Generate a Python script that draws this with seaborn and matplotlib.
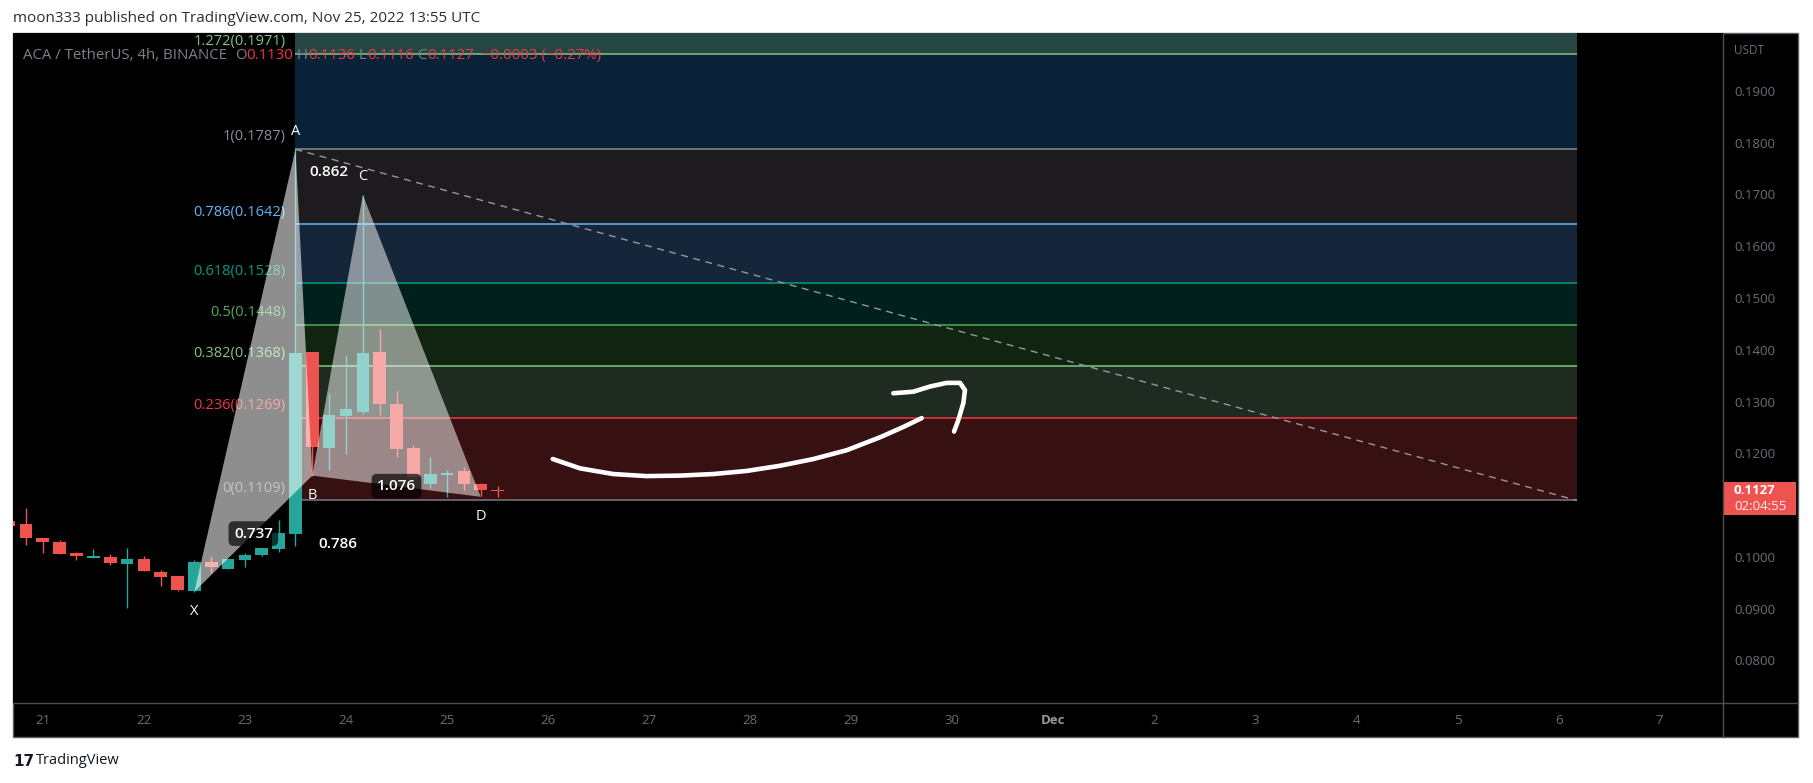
import numpy as np
import pandas as pd
import matplotlib
matplotlib.use("Agg")
import matplotlib.pyplot as plt
import matplotlib.transforms as mtransforms
from matplotlib.patches import Rectangle
from matplotlib.lines import Line2D
import seaborn as sns

# ---------------- data ----------------
origin = pd.Timestamp("2022-11-21 00:00")
candle_start = "2022-11-20 16:00"
opens  = [0.1069, 0.1064, 0.1036, 0.1029, 0.1008, 0.0998, 0.0999, 0.0987, 0.0996, 0.0971,
          0.0963, 0.0935, 0.0990, 0.0977, 0.0994, 0.1004, 0.1015, 0.1045, 0.1395, 0.1211,
          0.1273, 0.1280, 0.1396, 0.1295, 0.1210, 0.1140, 0.1159, 0.1165, 0.1141, 0.1130]
highs  = [0.1071, 0.1094, 0.1037, 0.1033, 0.1009, 0.1015, 0.1006, 0.1017, 0.1001, 0.0975,
          0.0963, 0.0994, 0.1002, 0.0995, 0.1008, 0.1017, 0.1071, 0.1787, 0.1396, 0.1316,
          0.1390, 0.1699, 0.1441, 0.1320, 0.1217, 0.1193, 0.1168, 0.1174, 0.1143, 0.1136]
lows   = [0.1058, 0.1023, 0.1008, 0.1006, 0.0994, 0.0998, 0.0984, 0.0902, 0.0972, 0.0943,
          0.0935, 0.0933, 0.0968, 0.0977, 0.0981, 0.1001, 0.1010, 0.1022, 0.1157, 0.1168,
          0.1199, 0.1275, 0.1274, 0.1192, 0.1155, 0.1134, 0.1116, 0.1129, 0.1118, 0.1116]
closes = [0.1060, 0.1037, 0.1028, 0.1006, 0.1002, 0.1002, 0.0989, 0.0996, 0.0972, 0.0961,
          0.0937, 0.0990, 0.0981, 0.0995, 0.1003, 0.1017, 0.1046, 0.1393, 0.1213, 0.1274,
          0.1286, 0.1393, 0.1295, 0.1209, 0.1155, 0.1160, 0.1160, 0.1140, 0.1130, 0.1127]

fib_low = 0.1109
fib_high = 0.1787
fib_levels = [0, 0.236, 0.382, 0.5, 0.618, 0.786, 1, 1.272, 1.414]
fib_line_colors = ["#787b86", "#f23645", "#81c784", "#4caf50", "#089981",
                   "#64b5f6", "#8a8d96", "#81c784", "#f23645"]
fib_band_colors = ["#371011", "#1f2b20", "#112412", "#00201d", "#15263a",
                   "#1d1b1e", "#0a2238", "#264644"]
fib_start = "2022-11-23 12:00"
fib_end = "2022-12-06 04:20"

pattern_names = ["X", "A", "B", "C", "D"]
pattern_times = ["2022-11-22 12:00", "2022-11-23 12:00", "2022-11-23 16:00",
                 "2022-11-24 04:00", "2022-11-25 08:00"]
pattern_prices = [0.0933, 0.1787, 0.1157, 0.1699, 0.1116]
ratio_pairs = [("X", "B"), ("A", "C"), ("X", "D"), ("B", "D")]
ratio_texts = ["0.737", "0.862", "0.786", "1.076"]

trend_times = ["2022-11-23 12:00", "2022-12-06 04:20"]
trend_prices = [0.1787, 0.1109]

price_ticks = [0.08, 0.09, 0.10, 0.12, 0.13, 0.14, 0.15, 0.16, 0.17, 0.18, 0.19]
day_labels = ["21", "22", "23", "24", "25", "26", "27", "28", "29", "30",
              "Dec", "2", "3", "4", "5", "6", "7"]

stroke_main_x = [5.046, 5.316, 5.645, 5.975, 6.305, 6.635, 6.965, 7.295, 7.625, 7.955, 8.285, 8.516, 8.697]
stroke_main_y = [0.1189, 0.1171, 0.1160, 0.1156, 0.1157, 0.1160, 0.1166, 0.1176, 0.1189, 0.1206, 0.1231, 0.1251, 0.1268]
stroke_hook_x = [8.416, 8.614, 8.779, 8.944, 9.076, 9.125, 9.109, 9.059, 9.017]
stroke_hook_y = [0.1316, 0.1319, 0.1329, 0.1336, 0.1336, 0.1322, 0.1297, 0.1264, 0.1242]

symbol_name = "ACA / TetherUS, 4h, BINANCE"
countdown = "02:04:55"
publish_text = "moon333 published on TradingView.com, Nov 25, 2022 13:55 UTC"

# ---------------- helpers ----------------
def to_days(t):
    return (pd.Timestamp(t) - origin) / pd.Timedelta("1D")

sns.set_theme(style="dark")
plt.rcParams["font.family"] = ["Open Sans", "DejaVu Sans"]
plt.rcParams["axes.unicode_minus"] = True

W, H = 1813, 783
fig = plt.figure(figsize=(W / 100, H / 100), dpi=100, facecolor="white")

# chart panel (black) incl. axes strips
px0, px1, py0, py1 = 13, 1798, 33, 737   # pixel box of the black panel
fig.patches.append(Rectangle((px0 / W, 1 - py1 / H), (px1 - px0) / W, (py1 - py0) / H,
                             transform=fig.transFigure, facecolor="black",
                             edgecolor="#5a5d66", lw=1, zorder=-10))

ax_l, ax_r, ax_t, ax_b = 13, 1723, 33, 703
ax = fig.add_axes([ax_l / W, 1 - ax_b / H, (ax_r - ax_l) / W, (ax_b - ax_t) / H])
ax.set_facecolor("black")
ax.set_zorder(1)

# separator lines through the axis strips
fig.add_artist(Line2D([ax_r / W, ax_r / W], [1 - py1 / H, 1 - py0 / H],
                      transform=fig.transFigure, color="#4a4d56", lw=1, zorder=5))
fig.add_artist(Line2D([px0 / W, px1 / W], [1 - ax_b / H, 1 - ax_b / H],
                      transform=fig.transFigure, color="#4a4d56", lw=1, zorder=5))

# ---------------- fib retracement ----------------
fx0, fx1 = to_days(fib_start), to_days(fib_end)
rng = fib_high - fib_low
fib_prices = [fib_low + l * rng for l in fib_levels]
for i, col in enumerate(fib_band_colors):
    ax.fill_between([fx0, fx1], fib_prices[i], fib_prices[i + 1], color=col, lw=0, zorder=0.5)
for lvl, p, col in zip(fib_levels[:-1], fib_prices[:-1], fib_line_colors[:-1]):
    ax.hlines(p, fx0, fx1, color=col, lw=1.1, zorder=1)
    lbl = f"{lvl:g}({p:.4f})"
    ax.annotate(lbl, xy=(fx0, p), xytext=(-7, 3.5), textcoords="offset points",
                ha="right", va="bottom", color=col, fontsize=10.5, zorder=1.2,
                annotation_clip=False)

# ---------------- candles ----------------
df = pd.DataFrame({"t": pd.date_range(candle_start, periods=len(opens), freq="4h"),
                   "open": opens, "high": highs, "low": lows, "close": closes})
df["x"] = (df["t"] - origin) / pd.Timedelta("1D")
up = df["close"] >= df["open"]
cols = np.where(up, "#26a69a", "#ef5350")
ax.vlines(df["x"], df["low"], df["high"], color=cols, lw=1.0, zorder=2)
body_lo = np.minimum(df["open"], df["close"])
body_h = np.maximum(np.abs(df["close"] - df["open"]), 0.00025)
ax.bar(df["x"], body_h, bottom=body_lo, width=0.125, color=cols, lw=0, zorder=2.1)

# ---------------- XABCD pattern ----------------
pt = {n: (to_days(t), p) for n, t, p in zip(pattern_names, pattern_times, pattern_prices)}
for tri, a in ((("X", "A", "B"), 0.56), (("B", "C", "D"), 0.5)):
    xs = [pt[n][0] for n in tri]
    ys = [pt[n][1] for n in tri]
    ax.fill(xs, ys, color="white", alpha=a, lw=0, zorder=3)
for n in pattern_names:
    below = n in ("X", "B", "D")
    ax.annotate(n, xy=pt[n], xytext=(0, -14 if below else 13), textcoords="offset points",
                ha="center", va="center", color="white", fontsize=10.5, zorder=5)
for (a, b), txt in zip(ratio_pairs, ratio_texts):
    mx = (pt[a][0] + pt[b][0]) / 2
    my = (pt[a][1] + pt[b][1]) / 2
    boxed = (a, b) in (("X", "B"), ("B", "D"))
    ax.text(mx, my, txt, ha="center", va="center", color="white", fontsize=11,
            fontweight="semibold", zorder=5,
            bbox=dict(boxstyle="round,pad=0.35", fc="black", ec="none",
                      alpha=0.68 if boxed else 0.0))

# dashed trend line
sns.lineplot(x=[to_days(t) for t in trend_times], y=trend_prices, ax=ax, color="#9598a1",
             lw=1, linestyle=(0, (5, 4)), zorder=3.5, sort=False, estimator=None)

# hand-drawn brush strokes
for sx, sy in ((stroke_main_x, stroke_main_y), (stroke_hook_x, stroke_hook_y)):
    sns.lineplot(x=sx, y=sy, ax=ax, color="white", lw=3.3, sort=False, estimator=None,
                 solid_capstyle="round", solid_joinstyle="round", zorder=6)

# ---------------- axes ----------------
ax.set_xlim(-0.295, 16.626)
ax.set_ylim(0.07179, 0.20116)
ax.yaxis.tick_right()
ax.set_yticks(price_ticks)
ax.set_yticklabels([f"{p:.4f}" for p in price_ticks])
ax.set_xticks(range(len(day_labels)))
ax.set_xticklabels(day_labels)
ax.tick_params(axis="y", length=0, pad=8, labelsize=9.5, labelcolor="#6b6e78")
ax.tick_params(axis="x", length=0, pad=8, labelsize=9.5, labelcolor="#6b6e78")
for lbl in ax.get_xticklabels():
    if lbl.get_text() == "Dec":
        lbl.set_fontweight("bold")
        lbl.set_color("#9598a1")
ax.grid(False)
ax.set_xlabel("")
ax.set_ylabel("")
for s in ax.spines.values():
    s.set_visible(False)

# price axis header and last-price tag
bt = mtransforms.blended_transform_factory(ax.transAxes, ax.transData)
ax.text(1.0064, 0.9746, "USDT", transform=ax.transAxes, ha="left", va="center",
        color="#6b6e78", fontsize=8.5, clip_on=False)
last = closes[-1]
ax.add_patch(Rectangle((1.0, last - 0.0046), 0.0427, 0.0064, transform=bt,
                       facecolor="#ef5350", edgecolor="none", clip_on=False, zorder=10))
ax.text(1.0064, last + 0.0002, f"{last:.4f}", transform=bt, ha="left", va="center",
        color="white", fontsize=9.5, fontweight="bold", clip_on=False, zorder=11)
ax.text(1.0064, last - 0.0030, countdown, transform=bt, ha="left", va="center",
        color="white", fontsize=9.5, alpha=0.9, clip_on=False, zorder=11)

# symbol / OHLC legend
chg = closes[-1] - closes[-2]
pct = chg / closes[-2] * 100
def fmt(v, d):
    s = f"{v:.{d}f}"
    return s.replace("-", "\u2212")
pieces = [(symbol_name + "  ", "#7d808a"), ("O", "#7d808a"), (fmt(opens[-1], 4), "#f23645"),
          (" H", "#7d808a"), (fmt(highs[-1], 4), "#f23645"),
          (" L", "#7d808a"), (fmt(lows[-1], 4), "#f23645"),
          (" C", "#7d808a"), (fmt(closes[-1], 4), "#f23645"),
          ("  " + fmt(chg, 4) + " (" + fmt(pct, 2) + "%)", "#f23645")]
prev = ax.text(10 / (ax_r - ax_l), 0.955, pieces[0][0], transform=ax.transAxes,
               ha="left", va="bottom", color=pieces[0][1], fontsize=10.8, zorder=4)
for s, c in pieces[1:]:
    prev = ax.annotate(s, xy=(1, 0), xycoords=prev, ha="left", va="bottom",
                       color=c, fontsize=10.8, zorder=4)

# page texts
fig.text(13 / W, 1 - 18 / H, publish_text, ha="left", va="center", color="#2a2e39", fontsize=11)
fig.text(13 / W, 1 - 761 / H, "17", ha="left", va="center", color="#131722",
         fontsize=11, fontweight="heavy", family=["DejaVu Sans"])
fig.text(36 / W, 1 - 761 / H, "TradingView", ha="left", va="center", color="#131722", fontsize=10.5)

fig.savefig("out.png", dpi=100, facecolor="white")
